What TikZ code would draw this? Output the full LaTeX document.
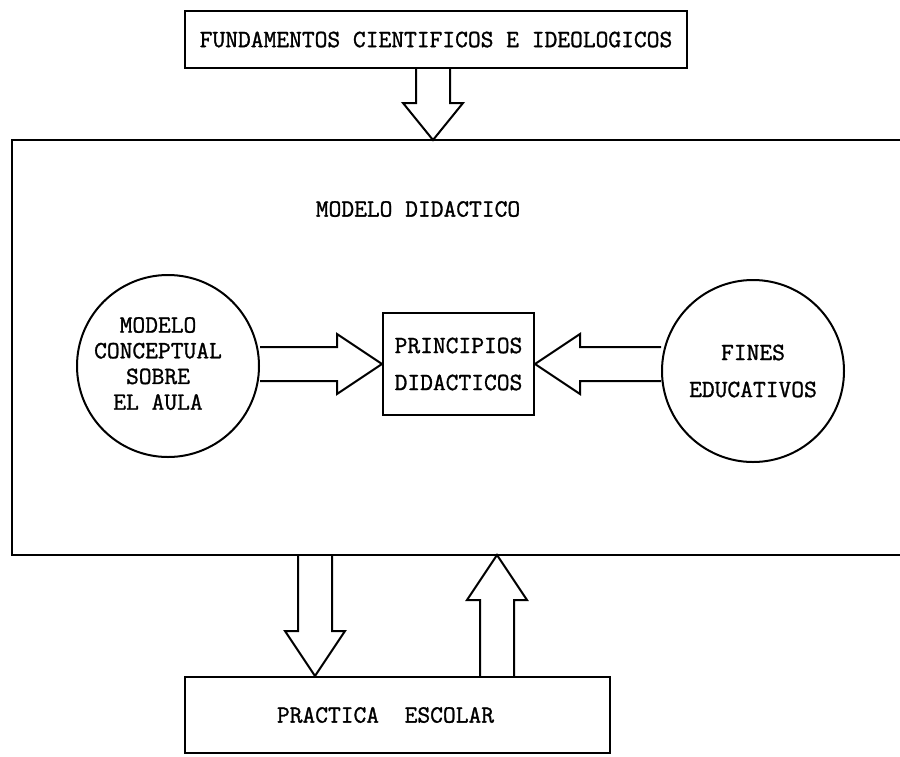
\documentclass[tikz,border=0pt]{standalone}
\usepackage{fontspec}
\setmonofont{Latin Modern Mono}[FakeBold=1.2]
\usetikzlibrary{calc}

\begin{document}
\begin{tikzpicture}[
    x=0.5pt, y=-0.5pt,
    line width=1pt,
    every node/.style={font=\ttfamily\bfseries\fontsize{12.4}{18.5}\selectfont, align=center},
    box/.style={draw, rectangle, inner sep=0pt},
    disc/.style={draw, circle, inner sep=0pt, minimum size=91pt},
    fat arrow/.style={to path={
        let \p1=(\tikztostart), \p2=(\tikztotarget),
            \n1={atan2(\y2-\y1,\x2-\x1)}, \n2={veclen(\x2-\x1,\y2-\y1)} in
        {[shift={(\p1)}, rotate=\n1]
        (0pt,-8.5pt) -- ({\n2-#1},-8.5pt) -- ({\n2-#1},-15pt) -- (\n2,0pt)
        -- ({\n2-#1},15pt) -- ({\n2-#1},8.5pt) -- (0pt,8.5pt)}}},
    fat arrow/.default=22.5pt
]
    \useasboundingbox (0,0) rectangle (900,756);

    % Boxes and circles
    \node[box, minimum width=251pt, minimum height=28.5pt] (fund) at (436,39.5)
        {FUNDAMENTOS CIENTIFICOS E IDEOLOGICOS};
    \draw (900,140) -| (12,555) -- (900,555);
    \node (modelo) at (418,209) {MODELO DIDACTICO};
    \node[disc] (aula) at (168,366)
        {\hspace*{-10pt}\fontsize{12.4}{12.85}\selectfont
         \begin{tabular}{@{}c@{}}MODELO\\CONCEPTUAL\\SOBRE\\EL AULA\end{tabular}};
    \node[box, minimum width=75.5pt, minimum height=51pt] (princ) at (458.5,364)
        {PRINCIPIOS\\DIDACTICOS};
    \node[disc] (fines) at (753,371) {FINES\\EDUCATIVOS};
    \node[box, minimum width=212.5pt, minimum height=38pt] (practica) at (397.5,715)
        {PRACTICA\ \ ESCOLAR\hspace*{12pt}};

    % Points on the edge of the open box
    \coordinate (mtop) at (433,140);
    \coordinate (mdown) at (315,555);
    \coordinate (mup) at (497,555);

    % Block arrows
    \draw[fat arrow=18.5pt] (fund.south -| mtop) to (mtop);
    \draw[fat arrow] (aula.east |- princ.west) to (princ.west);
    \draw[fat arrow] (fines.west |- princ.east) to (princ.east);
    \draw[fat arrow] (mdown) to (practica.north -| mdown);
    \draw[fat arrow] (practica.north -| mup) to (mup);

\end{tikzpicture}
\end{document}
